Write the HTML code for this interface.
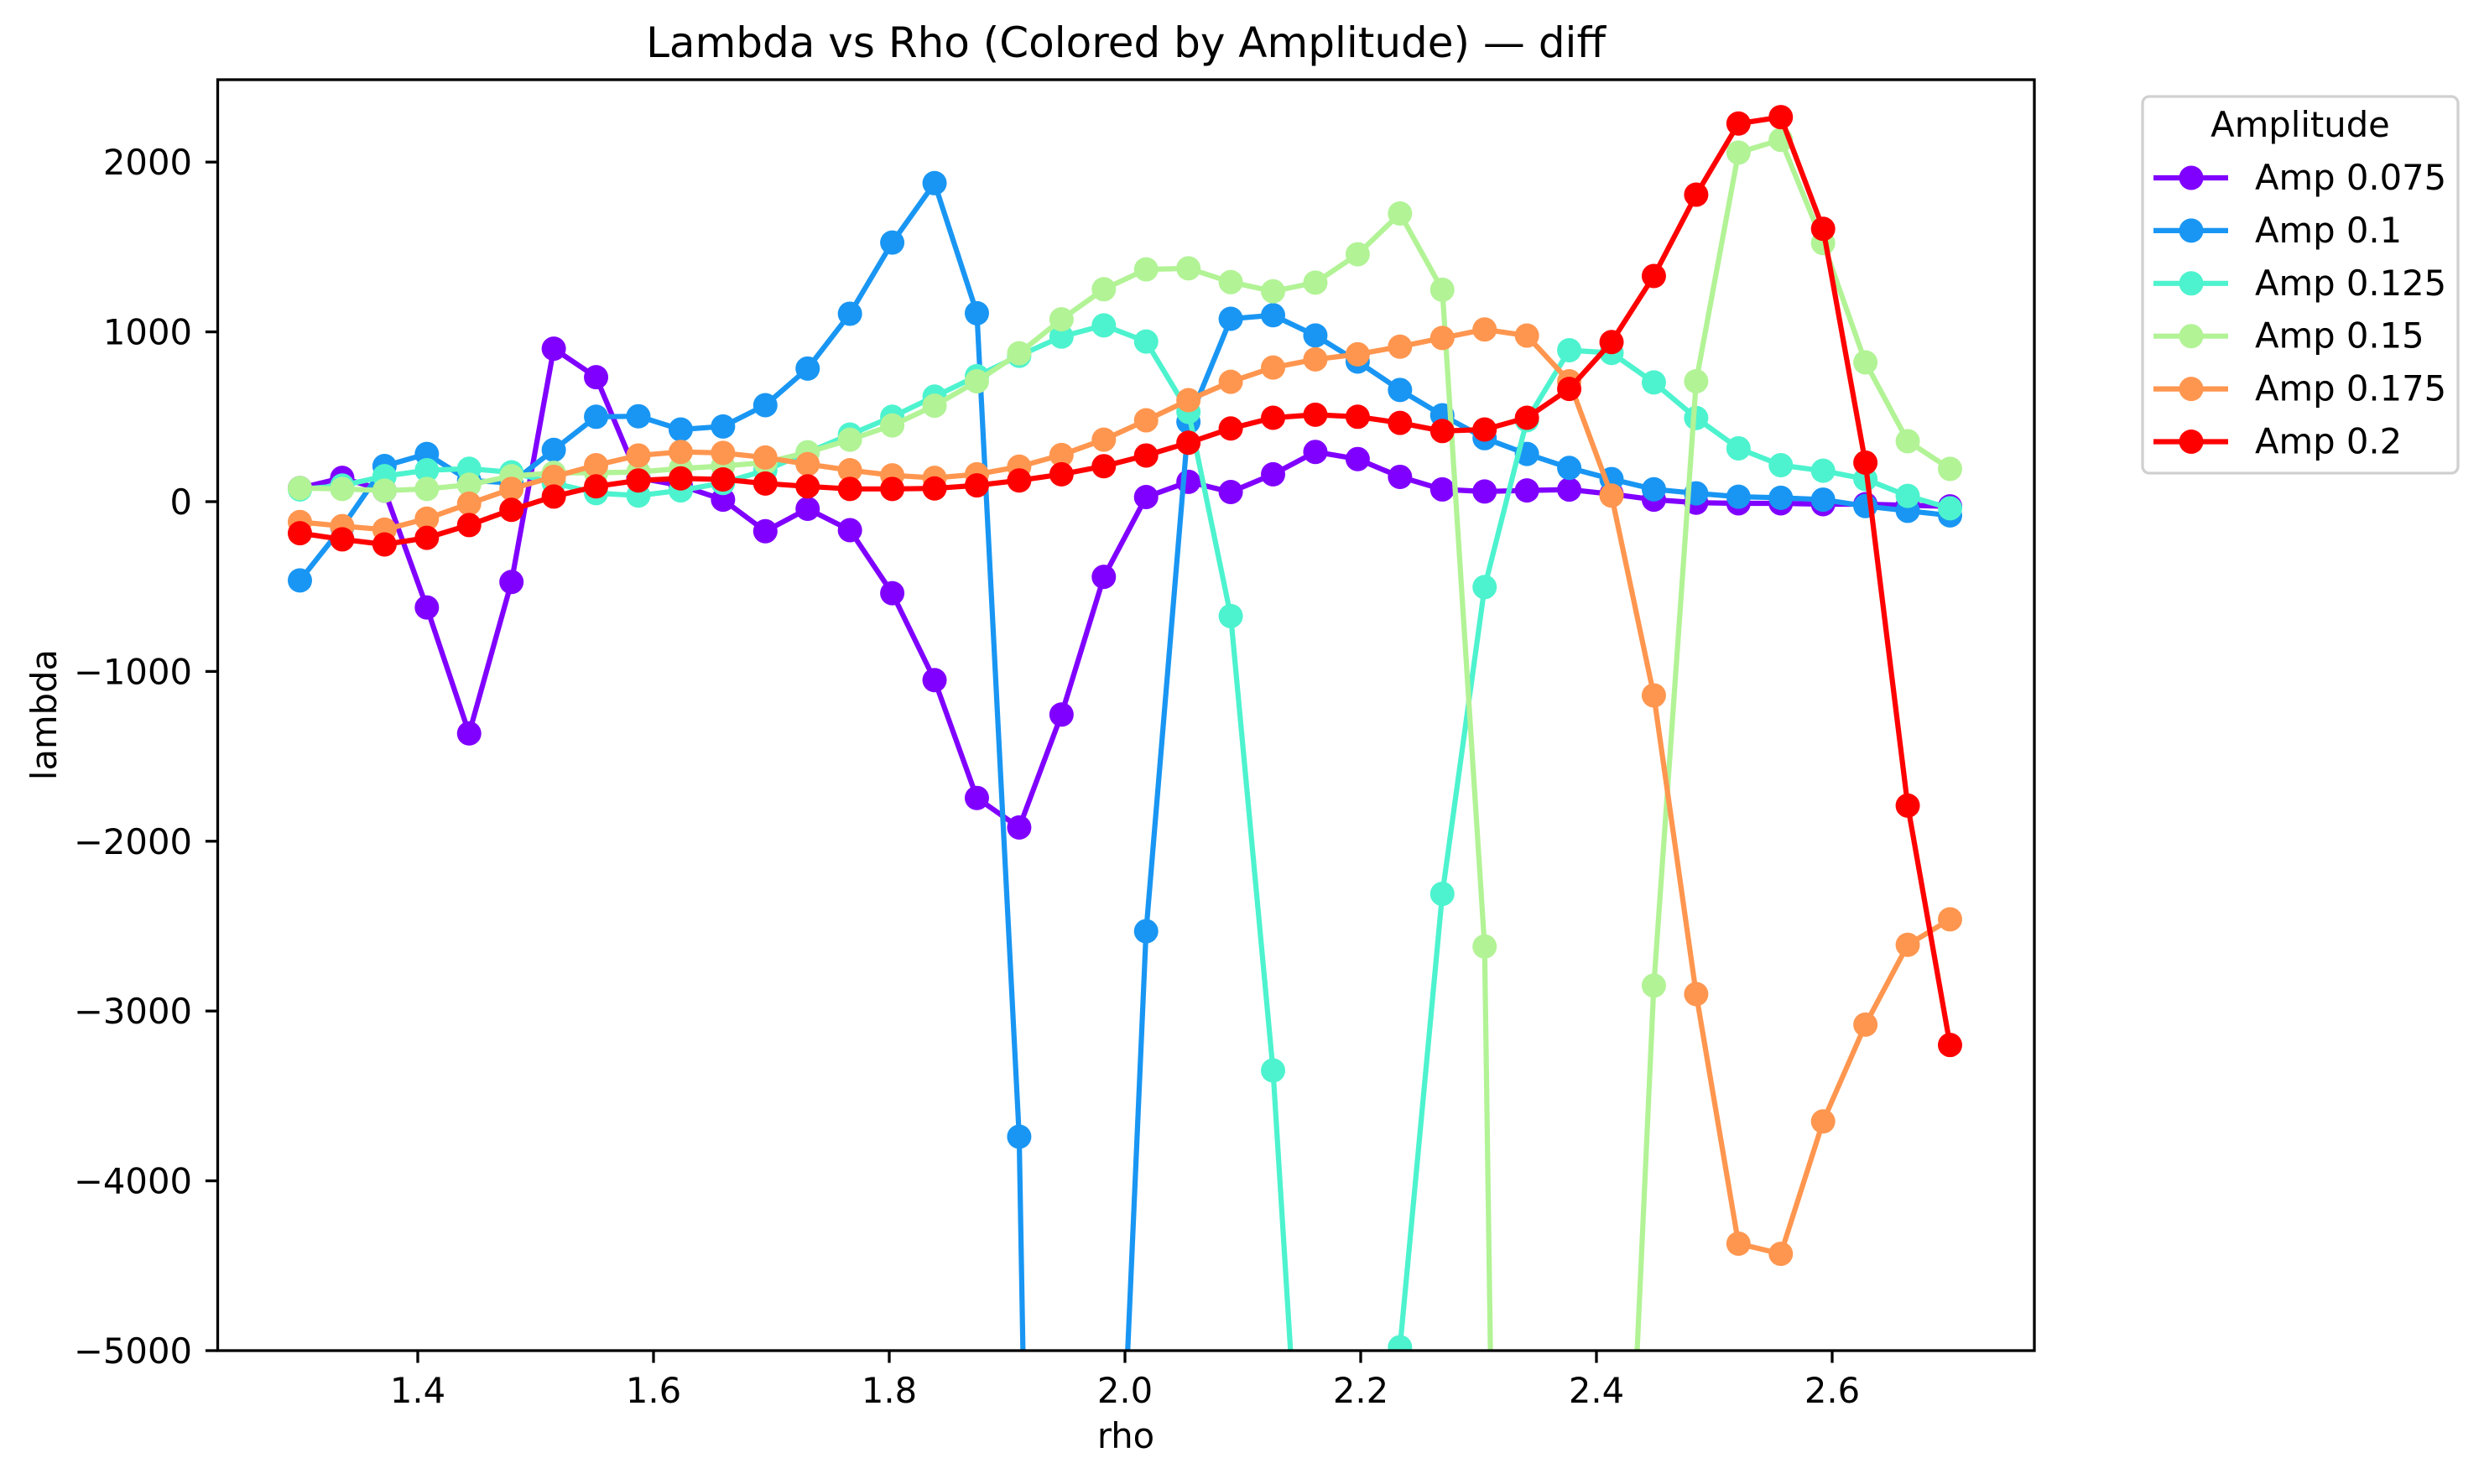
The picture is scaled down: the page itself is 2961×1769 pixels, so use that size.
<!DOCTYPE html>
<html><head><meta charset="utf-8"><style>
html,body{margin:0;padding:0;background:#fff;overflow:hidden;width:2961px;height:1769px;}
svg{display:block;font-family:"DejaVu Sans","Liberation Sans",sans-serif;}
</style></head><body>
<svg id="chart" width="2961" height="1769" viewBox="0 0 2961 1769" xmlns="http://www.w3.org/2000/svg">
<rect width="2961" height="1769" fill="#fff"/>
<defs><clipPath id="plotclip"><rect x="259.5" y="95" width="2165.5" height="1515"/></clipPath></defs>
<text x="1342" y="68" font-size="50" text-anchor="middle">Lambda vs Rho (Colored by Amplitude) — diff</text>
<g id="series" clip-path="url(#plotclip)"></g>
<g id="axes"></g>
<text x="1342" y="1726" font-size="41.7" text-anchor="middle">rho</text>
<text transform="translate(67,852) rotate(-90)" font-size="41.7" text-anchor="middle">lambda</text>
<g id="legend"></g>
</svg>
<script>
const rhoStart = 1.3, rhoEnd = 2.7, nPoints = 40;
const amplitudes = ["0.075","0.1","0.125","0.15","0.175","0.2"];
const colors = ["#8000ff","#1996f3","#4df3ce","#b2f396","#ff964f","#ff0000"];
const amp075 = [80,140,65,-623,-1365,-473,901,733,140,95,12,-174,-42,-168,-539,-1051,-1745,-1919,-1254,-443,27,117,57,161,293,251,146,72,60,66,71,45,12,-6,-10,-10,-15,-15,-21,-28];
const amp100 = [-464,-150,210,281,125,110,305,500,503,425,443,568,784,1107,1526,1876,1110,-3740,-18000,-8200,-2530,470,1077,1098,979,825,658,509,374,281,199,133,73,49,29,23,12,-26,-54,-81];
const amp125 = [72,95,150,185,194,173,110,50,36,66,110,185,290,395,500,619,739,859,972,1038,943,529,-674,-3350,-7350,-9000,-4980,-2310,-503,480,892,876,702,493,314,215,182,133,34,-39];
const amp150 = [80,75,65,75,100,150,170,170,175,195,210,230,290,365,449,565,709,874,1074,1251,1368,1374,1293,1239,1290,1457,1697,1248,-2620,-20000,-20000,-8300,-2850,709,2056,2131,1523,820,356,193];
const amp175 = [-120,-144,-165,-100,-12,75,146,215,272,293,287,260,221,185,155,140,161,206,275,365,479,598,706,790,838,868,913,964,1014,978,709,36,-1141,-2900,-4370,-4430,-3650,-3080,-2610,-2460];
const amp200 = [-186,-222,-252,-213,-138,-48,30,90,125,137,131,107,90,75,75,78,96,125,161,209,272,347,431,494,512,500,464,416,425,494,664,940,1329,1808,2227,2265,1607,230,-1790,-3200];
const seriesValues = [amp075,amp100,amp125,amp150,amp175,amp200];
const xTicks = [1.4,1.6,1.8,2.0,2.2,2.4,2.6];
const xTickLabels = ["1.4","1.6","1.8","2.0","2.2","2.4","2.6"];
const yTicks = [2000,1000,0,-1000,-2000,-3000,-4000,-5000];
const yTickLabels = ["2000","1000","0","\u22121000","\u22122000","\u22123000","\u22124000","\u22125000"];

const NS = "http://www.w3.org/2000/svg";
const L = 259.5, R = 2425, T = 95, B = 1610;
function xScale(r){ return 498 + (r - 1.4) * 1405; }
function yScale(v){ return 598 - v * 0.2024; }
function mk(tag, attrs, parent){
  const e = document.createElementNS(NS, tag);
  for (const k in attrs) e.setAttribute(k, attrs[k]);
  parent.appendChild(e); return e;
}
const rhos = [];
for (let i = 0; i < nPoints; i++) rhos.push(rhoStart + i * (rhoEnd - rhoStart) / (nPoints - 1));

const sg = document.getElementById('series');
seriesValues.forEach((vals, s) => {
  const g = mk('g', {}, sg);
  
  
  const pts = vals.map((v, i) => xScale(rhos[i]).toFixed(1) + ',' + yScale(v).toFixed(1)).join(' ');
  const pl = mk('polyline', {points: pts, fill: 'none', stroke: colors[s], 'stroke-width': 6.2, 'stroke-linejoin': 'round'}, g);
  
  
  vals.forEach((v, i) => {
    const c = mk('circle', {cx: xScale(rhos[i]), cy: yScale(v), r: 14.5, fill: colors[s]}, g);
    
    
  });
});

const ax = document.getElementById('axes');
const frame = mk('rect', {x: L, y: T, width: R - L, height: B - T, fill: 'none', stroke: '#000', 'stroke-width': 3.3}, ax);


xTicks.forEach((t, i) => {
  const x = xScale(t);
  const tk = mk('line', {x1: x, x2: x, y1: B, y2: B + 14.6, stroke: '#000', 'stroke-width': 3.3}, ax);
  
  
  const tx = mk('text', {x: x, y: 1672, 'font-size': 41.7, 'text-anchor': 'middle'}, ax);
  tx.textContent = xTickLabels[i];
  
  
});
yTicks.forEach((t, i) => {
  const y = yScale(t);
  const tk = mk('line', {x1: L - 14.6, x2: L, y1: y, y2: y, stroke: '#000', 'stroke-width': 3.3}, ax);
  
  
  const tx = mk('text', {x: 229, y: y + 15, 'font-size': 41.7, 'text-anchor': 'end'}, ax);
  tx.textContent = yTickLabels[i];
  
  
});

const lg = document.getElementById('legend');
const box = mk('rect', {x: 2554, y: 115, width: 376, height: 449, rx: 8, fill: '#fff', stroke: '#d0d0d0', 'stroke-width': 3.3}, lg);


const lt = mk('text', {x: 2742, y: 163, 'font-size': 41.7, 'text-anchor': 'middle'}, lg);
lt.textContent = 'Amplitude';


amplitudes.forEach((a, s) => {
  const y = 212 + s * 62.9;
  const g = mk('g', {}, lg);
  
  
  mk('line', {x1: 2567, x2: 2656, y1: y, y2: y, stroke: colors[s], 'stroke-width': 6.2}, g);
  mk('circle', {cx: 2612, cy: y, r: 14.5, fill: colors[s]}, g);
  const t = mk('text', {x: 2688, y: y + 14, 'font-size': 41.7}, g);
  t.textContent = 'Amp ' + a;
});
</script>
</body></html>
